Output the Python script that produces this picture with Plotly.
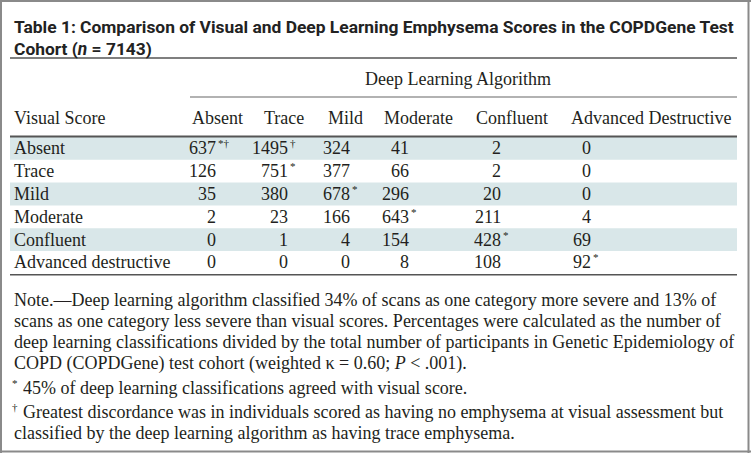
import plotly.graph_objects as go

W, H = 751, 453

title_lines = [
    "Table 1: Comparison of Visual and Deep Learning Emphysema Scores in the COPDGene Test",
    "Cohort (<i>n</i> = 7143)",
]
spanner = "Deep Learning Algorithm"
row_header = "Visual Score"
visual_scores = ["Absent", "Trace", "Mild", "Moderate", "Confluent", "Advanced destructive"]
dl_categories = ["Absent", "Trace", "Mild", "Moderate", "Confluent", "Advanced Destructive"]
counts = [
    [637, 1495, 324, 41, 2, 0],
    [126, 751, 377, 66, 2, 0],
    [35, 380, 678, 296, 20, 0],
    [2, 23, 166, 643, 211, 4],
    [0, 1, 4, 154, 428, 69],
    [0, 0, 0, 8, 108, 92],
]
marks = [
    ["*†", "†", "", "", "", ""],
    ["", "*", "", "", "", ""],
    ["", "", "*", "", "", ""],
    ["", "", "", "*", "", ""],
    ["", "", "", "", "*", ""],
    ["", "", "", "", "", "*"],
]
note_lines = [
    "Note.—Deep learning algorithm classified 34% of scans as one category more severe and 13% of",
    "scans as one category less severe than visual scores. Percentages were calculated as the number of",
    "deep learning classifications divided by the total number of participants in Genetic Epidemiology of",
    "COPD (COPDGene) test cohort (weighted κ = 0.60; <i>P</i> &lt; .001).",
]
footnotes = [
    ("*", "45% of deep learning classifications agreed with visual score."),
    ("†", "Greatest discordance was in individuals scored as having no emphysema at visual assessment but"),
    ("", "classified by the deep learning algorithm as having trace emphysema."),
]

# layout geometry (pixels)
L, R = 10, 737
TEXT_X = 12
col_left = [190, 262, 326, 382, 474, 569]
col_right = [218, 290, 352, 411, 503, 593]
row_top = 137
row_h = 22.8
shade = "#d9e7e9"
SERIF = "Liberation Serif, Times New Roman, serif"
SANS = "Liberation Sans Narrow, Roboto, Arial Narrow, sans-serif"
FS = 18


def px(x):
    return x / W


def py(y):
    return 1 - y / H


shapes = []
ann = []


def hline(y, x0, x1, w, c):
    shapes.append(dict(type="line", xref="paper", yref="paper", x0=px(x0), x1=px(x1),
                       y0=py(y), y1=py(y), line=dict(color=c, width=w)))


def vline(x, y0, y1, w, c):
    shapes.append(dict(type="line", xref="paper", yref="paper", x0=px(x), x1=px(x),
                       y0=py(y0), y1=py(y1), line=dict(color=c, width=w)))


def text(x, y, s, anchor="left", size=FS, font=SERIF, color="#231f20", yshift=0, xshift=0):
    ann.append(dict(xref="paper", yref="paper", x=px(x), y=py(y), text=s, showarrow=False,
                    xanchor=anchor, yanchor="middle", yshift=yshift, xshift=xshift,
                    font=dict(family=font, size=size, color=color)))


# outer frame
FR = "#8a8a8a"
hline(1, 0, W, 2, FR)
hline(451.5, 0, W, 2, FR)
vline(1, 0, H, 2, FR)
vline(748.5, 0, H, 2, FR)

# title
text(TEXT_X, 27, "<b>" + title_lines[0] + "</b>", size=17.4, font=SANS, color="#222")
text(TEXT_X, 49, "<b>" + title_lines[1] + "</b>", size=17.4, font=SANS, color="#222")

# shaded rows
for i in range(len(visual_scores)):
    if i % 2 == 0:
        y0 = row_top + i * row_h
        shapes.append(dict(type="rect", xref="paper", yref="paper", x0=px(L), x1=px(R),
                           y0=py(y0 + row_h), y1=py(y0), line=dict(width=0),
                           fillcolor=shade, layer="below"))

hline(58, L, R, 1.5, "#555")
text(458, 79, spanner, anchor="center")
hline(97, col_left[0], R, 1.2, "#666")
text(TEXT_X, 118, row_header)
for j, c in enumerate(dl_categories):
    text(col_left[j], 118, c)
hline(136.5, L, R, 2, "#555")

for i, v in enumerate(visual_scores):
    yc = row_top + (i + 0.5) * row_h
    text(TEXT_X, yc, v)
    for j in range(len(dl_categories)):
        text(col_right[j], yc, str(counts[i][j]), anchor="right")
        if marks[i][j]:
            text(col_right[j], yc, marks[i][j], anchor="left", size=11, yshift=5, xshift=-2)

bottom = row_top + len(visual_scores) * row_h
hline(bottom + 1, L, R, 1.5, "#555")

note_y = [300, 321, 342, 363]
for y, s in zip(note_y, note_lines):
    text(TEXT_X, y, s)

foot_y = [388, 412, 433]
for (m, s), y in zip(footnotes, foot_y):
    if m:
        text(TEXT_X, y, m, size=11, yshift=5, xshift=-2)
        text(TEXT_X + 9, y, s)
    else:
        text(TEXT_X, y, s)

fig = go.Figure()
fig.update_layout(width=W, height=H, margin=dict(l=0, r=0, t=0, b=0),
                  paper_bgcolor="white", plot_bgcolor="white",
                  xaxis=dict(visible=False), yaxis=dict(visible=False),
                  shapes=shapes, annotations=ann, showlegend=False)
fig.write_html("out.html", config={"displayModeBar": False},
               post_script="document.body.style.margin='0';document.body.style.overflow='hidden';")
